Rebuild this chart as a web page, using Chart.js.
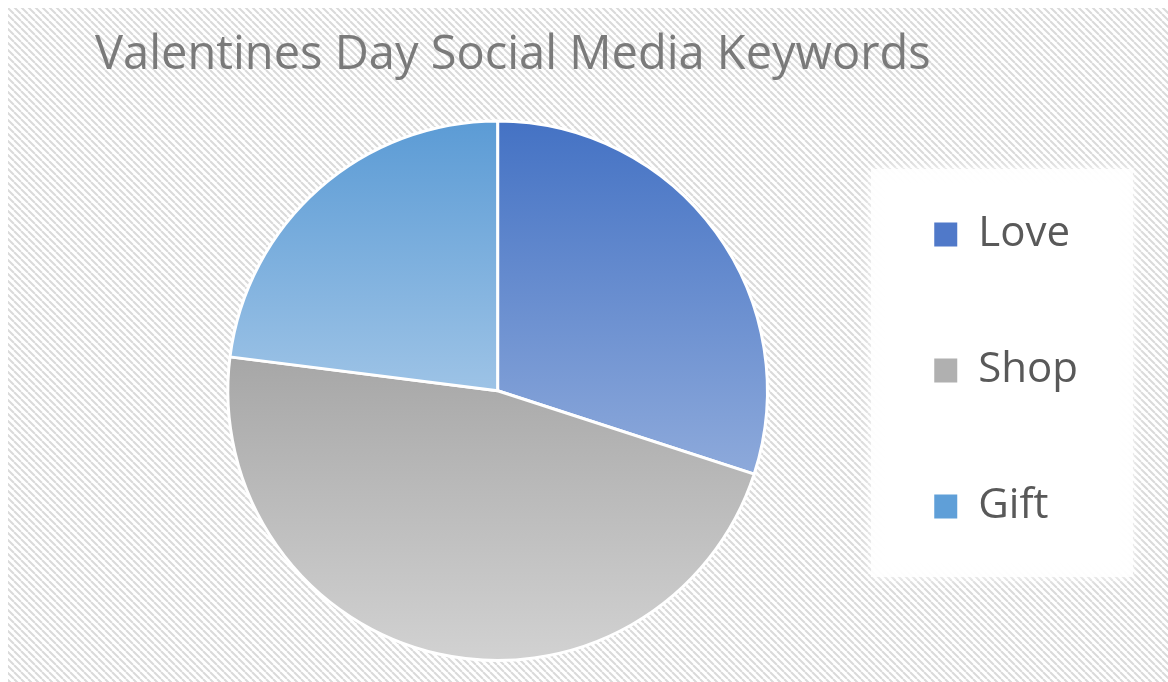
<!DOCTYPE html>
<html>
<head>
<meta charset="utf-8">
<script src="https://cdn.jsdelivr.net/npm/chart.js@4.4.1/dist/chart.umd.min.js"></script>
<style>
  body { margin: 0; background: #fff; }
  #wrap { width: 1168px; height: 682px; position: relative; }
</style>
</head>
<body>
<div id="wrap"><canvas id="pie"></canvas></div>
<script>
// data
const labels = ["Love", "Shop", "Gift"];
const values = [30, 47, 23];

// gradient stops per slice (top of pie -> bottom of pie)
const sliceStops = [
  [[0, "#4472c4"], [0.66, "#8eaadb"], [1, "#a9bfe6"]],
  [[0, "#8f8f8f"], [0.43, "#a6a6a6"], [1, "#d2d2d2"]],
  [[0, "#5b9bd5"], [0.5, "#9dc3e6"], [1, "#b5d2ee"]],
];
const legendColors = ["#5079c9", "#b0b0b0", "#5f9fd8"];

const font = "'Open Sans', 'Noto Sans', sans-serif";

// diagonal hatch background + white legend panel
const backdrop = {
  id: "backdrop",
  beforeDraw(chart) {
    const c = chart.ctx;
    const s = 7;
    const tile = document.createElement("canvas");
    tile.width = s;
    tile.height = s;
    const t = tile.getContext("2d");
    t.strokeStyle = "#dadada";
    t.lineWidth = 2;
    for (const k of [-s, 0, s]) {
      t.beginPath();
      t.moveTo(k, 0);
      t.lineTo(k + s, s);
      t.stroke();
    }
    c.save();
    c.fillStyle = "#fff";
    c.fillRect(0, 0, chart.width, chart.height);
    c.fillStyle = c.createPattern(tile, "repeat");
    c.fillRect(8, 8, chart.width - 8, chart.height - 8);
    c.shadowColor = "rgba(255,255,255,1)";
    c.shadowBlur = 12;
    c.fillStyle = "rgba(255,255,255,0.85)";
    c.fillRect(871, 169, 262, 408);
    c.restore();
  },
};

// move the pie to the right so the title can start at the left edge
const shiftPie = {
  id: "shiftPie",
  afterLayout(chart) {
    const a = chart.chartArea;
    a.left += 60;
    a.width = a.right - a.left;
  },
};

new Chart(document.getElementById("pie"), {
  type: "pie",
  plugins: [backdrop, shiftPie],
  data: {
    labels: labels,
    datasets: [
      {
        data: values,
        backgroundColor: (ctx) => {
          const area = ctx.chart.chartArea;
          const stops = sliceStops[ctx.dataIndex];
          if (!area) return stops[1][1];
          const g = ctx.chart.ctx.createLinearGradient(0, area.top, 0, area.bottom);
          stops.forEach(([p, col]) => g.addColorStop(p, col));
          return g;
        },
        borderColor: "#ffffff",
        borderWidth: 3,
        hoverOffset: 0,
      },
    ],
  },
  options: {
    responsive: true,
    maintainAspectRatio: false,
    animation: false,
    layout: { padding: { left: 95, right: 80, top: 0, bottom: 20 } },
    plugins: {
      tooltip: { enabled: false },
      title: {
        display: true,
        text: "Valentines Day Social Media Keywords",
        align: "start",
        color: "#7a7a7a",
        font: { family: font, size: 47, weight: "normal" },
        padding: { top: 27, bottom: 36 },
      },
      legend: {
        position: "right",
        align: "start",
        fullSize: false,
        labels: {
          color: "#595959",
          font: { family: font, size: 42 },
          boxWidth: 23,
          boxHeight: 24,
          padding: 94,
          generateLabels(chart) {
            const items = Chart.overrides.pie.plugins.legend.labels.generateLabels(chart);
            items.forEach((it, i) => {
              it.fillStyle = legendColors[i];
              it.lineWidth = 0;
            });
            return items;
          },
        },
      },
    },
  },
});
</script>
</body>
</html>
